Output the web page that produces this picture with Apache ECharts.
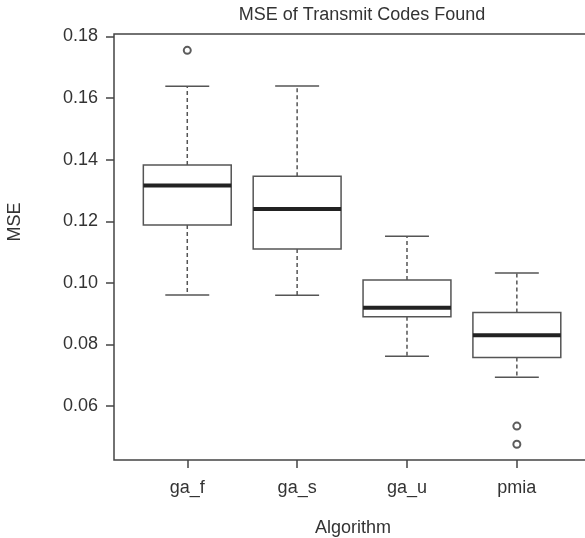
<!DOCTYPE html>
<html>
<head>
<meta charset="utf-8">
<script src="https://cdn.jsdelivr.net/npm/echarts@6/dist/echarts.min.js"></script>
<style>
    html, body { margin: 0; padding: 0; background: #fff; }
    #chart { width: 585px; height: 538px; }
</style>
</head>
<body>
<div id="chart"></div>
<script>
// box statistics
const categories = ['ga_f', 'ga_s', 'ga_u', 'pmia']
const whiskerLow = [0.0961, 0.0960, 0.0762, 0.0694]
const q1 = [0.1188, 0.1110, 0.0890, 0.0758]
const median = [0.1316, 0.1240, 0.0919, 0.0830]
const q3 = [0.1383, 0.1346, 0.1009, 0.0904]
const whiskerHigh = [0.1638, 0.1639, 0.1151, 0.1032]
// [category index, value]
const outliers = [[0, 0.1755], [3, 0.0535], [3, 0.0476]]
const yTicks = [0.06, 0.08, 0.10, 0.12, 0.14, 0.16, 0.18]

const font = 'Liberation Sans, Arial, sans-serif'
const boxData = categories.map((c, i) => [i + 1, whiskerLow[i], q1[i], median[i], q3[i], whiskerHigh[i]])

const chart = echarts.init(document.getElementById('chart'))

function renderBox (params, api) {
    const x = api.value(0)
    const halfBox = api.size([0.4, 0])[0]
    const halfCap = api.size([0.2, 0])[0]
    const pLow = api.coord([x, api.value(1)])
    const pQ1 = api.coord([x, api.value(2)])
    const pMed = api.coord([x, api.value(3)])
    const pQ3 = api.coord([x, api.value(4)])
    const pHigh = api.coord([x, api.value(5)])
    const cx = pMed[0]
    const boxStyle = { stroke: '#555', lineWidth: 1.5, fill: '#fff' }
    const dash = { stroke: '#555', lineWidth: 1.5, lineDash: [4, 3] }
    const solid = { stroke: '#555', lineWidth: 1.5 }
    return {
        type: 'group',
        children: [
            { type: 'line', shape: { x1: cx, y1: pQ3[1], x2: cx, y2: pHigh[1] }, style: dash },
            { type: 'line', shape: { x1: cx, y1: pQ1[1], x2: cx, y2: pLow[1] }, style: dash },
            { type: 'line', shape: { x1: cx - halfCap, y1: pHigh[1], x2: cx + halfCap, y2: pHigh[1] }, style: solid },
            { type: 'line', shape: { x1: cx - halfCap, y1: pLow[1], x2: cx + halfCap, y2: pLow[1] }, style: solid },
            { type: 'rect', shape: { x: cx - halfBox, y: pQ3[1], width: halfBox * 2, height: pQ1[1] - pQ3[1] }, style: boxStyle },
            { type: 'line', shape: { x1: cx - halfBox, y1: pMed[1], x2: cx + halfBox, y2: pMed[1] }, style: { stroke: '#222', lineWidth: 4 } }
        ]
    }
}

chart.setOption({
    animation: false,
    backgroundColor: '#fff',
    textStyle: { fontFamily: font },
    grid: {
        left: 114, top: 34, width: 497, bottom: 78,
        outerBoundsMode: 'none',
        containLabel: false,
        show: true, borderColor: '#444', borderWidth: 1.5, backgroundColor: 'transparent'
    },
    xAxis: {
        type: 'value',
        min: 0.333,
        max: 4.857,
        splitLine: { show: false },
        axisLine: { show: false },
        axisTick: { show: true, customValues: [1, 2, 3, 4], length: 8, lineStyle: { color: '#444', width: 1.5 } },
        axisLabel: {
            customValues: [1, 2, 3, 4],
            margin: 19,
            fontSize: 18,
            color: '#333',
            fontFamily: font,
            formatter: v => categories[Math.round(v) - 1]
        }
    },
    yAxis: {
        type: 'value',
        min: 0.0425,
        max: 0.1808,
        splitLine: { show: false },
        axisLine: { show: false },
        axisTick: { show: true, customValues: yTicks, length: 8, lineStyle: { color: '#444', width: 1.5 } },
        axisLabel: {
            customValues: yTicks,
            margin: 16,
            fontSize: 18,
            color: '#333',
            fontFamily: font,
            formatter: v => v.toFixed(2)
        }
    },
    graphic: [
        { type: 'text', x: 362, y: 15, style: { text: 'MSE of Transmit Codes Found', font: '18px ' + font, fill: '#333', textAlign: 'center', textVerticalAlign: 'middle' } },
        { type: 'text', x: 353, y: 528, style: { text: 'Algorithm', font: '18px ' + font, fill: '#333', textAlign: 'center', textVerticalAlign: 'middle' } },
        { type: 'text', x: 15, y: 222, rotation: Math.PI / 2, style: { text: 'MSE', font: '18px ' + font, fill: '#333', textAlign: 'center', textVerticalAlign: 'middle' } }
    ],
    series: [
        {
            type: 'custom',
            renderItem: renderBox,
            data: boxData,
            encode: { x: 0, y: [1, 2, 3, 4, 5] },
            clip: false
        },
        {
            type: 'scatter',
            data: outliers.map(o => [o[0] + 1, o[1]]),
            symbol: 'emptyCircle',
            symbolSize: 7,
            itemStyle: { color: '#333', borderWidth: 1.5 }
        }
    ]
})
</script>
</body>
</html>
